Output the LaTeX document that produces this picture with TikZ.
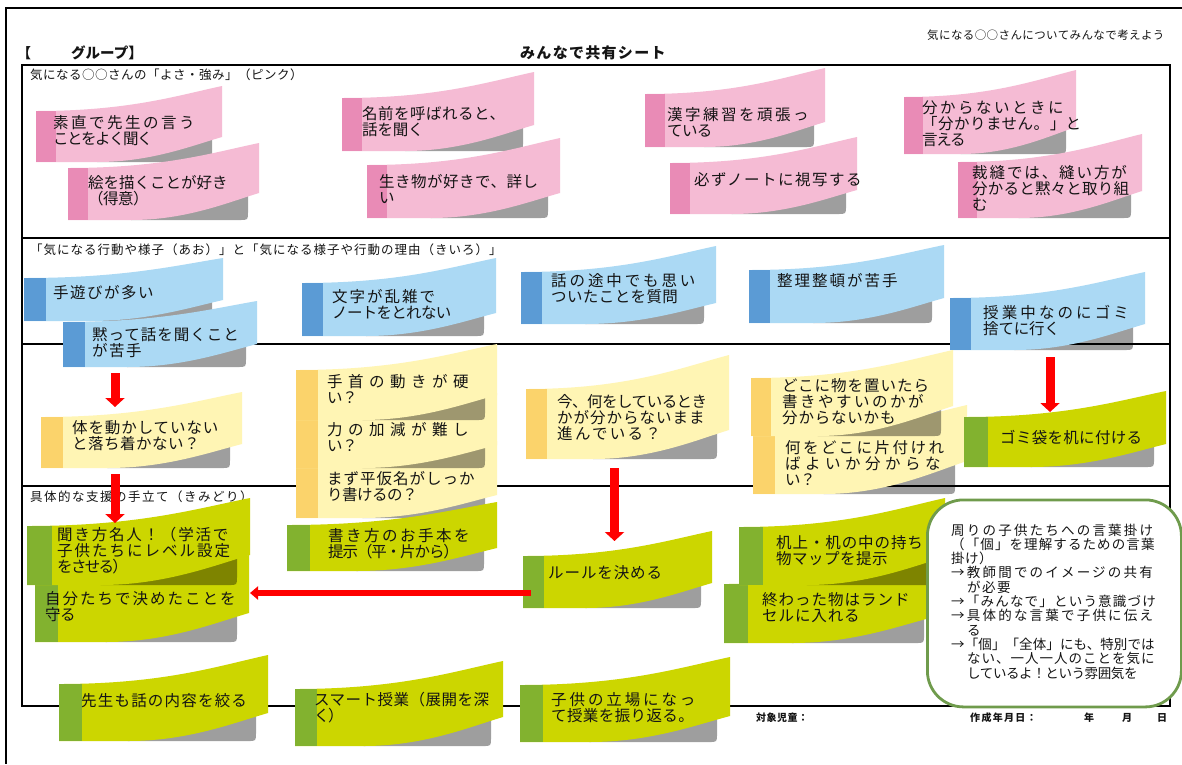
\documentclass[tikz,border=0pt]{standalone}
\usepackage{fontspec}
\setmainfont{Noto Sans CJK JP}
\usetikzlibrary{arrows.meta}
\definecolor{noteP}{HTML}{F5BBD4}\definecolor{stripP}{HTML}{E98BB6}
\definecolor{noteB}{HTML}{ABD9F4}\definecolor{stripB}{HTML}{5B9BD5}
\definecolor{noteY}{HTML}{FFF5B4}\definecolor{stripY}{HTML}{FBD36B}
\definecolor{noteG}{HTML}{CCD600}\definecolor{stripG}{HTML}{82B22F}
\definecolor{inkc}{HTML}{141414}
\definecolor{boxg}{HTML}{6F9B4C}
\newcommand\basefs{15.5}
\newcommand\Ln[2]{\pgfmathsetmacro\lsv{(#1-\basefs)/\basefs*100}\edef\tmpls{\noexpand\addfontfeature{LetterSpace=\lsv}}\tmpls #2}
% note: colour, L, stripR, T, R, TR, BR, B, GR
\newcommand\notebox[9]{%
 \pgfmathsetmacro\nbw{#5-#2}%
 \pgfmathsetmacro\nbax{#2+0.5*\nbw}\pgfmathsetmacro\nbbx{#2+0.76*\nbw}\pgfmathsetmacro\nbby{#6+0.38*(#4-#6)}%
 \pgfmathsetmacro\nbcx{#2+0.33*\nbw}\pgfmathsetmacro\nbdx{#2+0.62*\nbw}\pgfmathsetmacro\nbex{#2+0.84*\nbw}\pgfmathsetmacro\nbey{#7+0.34*(#8-#7)}%
 \pgfmathsetmacro\nbgt{#7-12}\pgfmathsetmacro\nbrx{#9-8}\pgfmathsetmacro\nbry{#8-8}%
 \fill[shadowfill] (\nbcx,#8) -- (\nbrx,#8) .. controls (#9,#8) and (#9,#8) .. (#9,\nbry) -- (#9,\nbgt) -- (\nbcx,\nbgt) -- cycle;
 \fill[note#1] (#2,#4) .. controls (\nbax,#4) and (\nbbx,\nbby) .. (#5,#6) -- (#5,#7) .. controls (\nbex,\nbey) and (\nbdx,#8) .. (\nbcx,#8) -- (#2,#8) -- cycle;
 \fill[strip#1] (#2,#4) rectangle (#3,#8);
}
\newcommand\nt[4]{\node[txt] (#1) at (#2,#3) {#4};}
\tikzset{
 shadowfill/.style={black,opacity=.38},
 txt/.style={anchor=west,inner sep=0pt,align=left,text=inkc,font=\fontsize{15.5}{16}\selectfont},
 lab/.style={anchor=west,inner sep=0pt,text=inkc,font=\fontsize{12.5}{14}\selectfont},
 rowline/.style={line width=1.1pt,black},
 blockarrow/.style={red,line width=9pt,-{Triangle[width=19pt,length=9pt]}},
 flatarrow/.style={red,line width=6.5pt,-{Triangle[width=13pt,length=8pt]}},
}
\begin{document}
\begin{tikzpicture}[x=1pt,y=-1pt]
\useasboundingbox (0,0) rectangle (1182,764);
\fill[white] (0,0) rectangle (1182,764);
% frame and table
\draw[line width=2pt] (1182,7.5) -- (5.5,7.5) -- (5.5,764);
\draw[rowline] (22,65) rectangle (1170,706);
\draw[rowline] (22,238) -- (1170,238);
\draw[rowline] (22,344) -- (1170,344);
\draw[rowline] (22,486) -- (1170,486);
% headings
\renewcommand\basefs{15}
\node[txt,font=\fontsize{14}{16}\bfseries\selectfont] (brk) at (17,53) {【};
\node[txt,font=\fontsize{14.5}{16}\bfseries\selectfont] (grp) at (71,53) {グループ】};
\node[txt,font=\fontsize{15}{16}\bfseries\selectfont] (ttl) at (520,53) {\Ln{16.3}{みんなで共有シート}};
\renewcommand\basefs{11.5}
\node[txt,font=\fontsize{11.5}{13}\selectfont] (rgt) at (927,35) {\Ln{11.9}{気になる○○さんについてみんなで考えよう}};
\renewcommand\basefs{12.5}
\node[lab] (s1) at (30,75) {\Ln{13}{気になる○○さんの「よさ・強み」（ピンク）}};
\node[lab] (s2) at (30,250) {\Ln{13.5}{「気になる行動や様子（あお）」と「気になる様子や行動の理由（きいろ）」}};
\node[lab] (s3) at (30,497) {\Ln{14}{具体的な支援の手立て（きみどり）}};
\renewcommand\basefs{15.5}
% pink
\notebox{P}{36}{56}{111}{222}{86}{137}{162}{212}
\nt{p1}{53}{131}{\Ln{18}{素直で先生の言う}\\\Ln{14}{ことをよく聞く}}
\notebox{P}{68}{88}{168}{259}{143}{193}{220}{248}
\nt{p2}{88}{191}{\Ln{15.5}{絵を描くことが好き}\\\Ln{15}{（得意）}}
\notebox{P}{342}{362}{98}{534}{72}{125}{151}{523}
\nt{p3}{362}{122}{\Ln{16}{名前を呼ばれると、}\\\Ln{15.3}{話を聞く}}
\notebox{P}{367}{387}{165}{560}{138}{193}{218}{548}
\nt{p4}{379}{189}{\Ln{16}{生き物が好きで、詳し}\\\Ln{14}{い}}
\notebox{P}{645}{665}{94}{825}{68}{122}{147}{814}
\nt{p5}{667}{122}{\Ln{18}{漢字練習を頑張っ}\\\Ln{14.8}{ている}}
\notebox{P}{670}{690}{163}{857}{137}{190}{214}{846}
\nt{p6}{694}{180}{\Ln{17}{必ずノートに視写する}}
\notebox{P}{904}{923}{97}{1076}{70}{127}{154}{1066}
\nt{p7}{922}{124}{\Ln{18}{分からないときに}\\\Ln{16}{「分かりません。」と}\\\Ln{14.2}{言える}}
\notebox{P}{958}{977}{162}{1142}{134}{191}{218}{1131}
\nt{p8}{972}{188}{\Ln{17.4}{裁縫では、縫い方が}\\\Ln{15.7}{分かると黙々と取り組}\\\Ln{14}{む}}
% blue
\notebox{B}{24}{46}{278}{223}{258}{300}{321}{212}
\nt{b1}{53}{293}{\Ln{17}{手遊びが多い}}
\notebox{B}{63}{85}{322}{257}{301}{344}{367}{246}
\nt{b2}{92}{343}{\Ln{16.5}{黙って話を聞くこと}\\\Ln{17}{が苦手}}
\notebox{B}{302}{323}{283}{496}{258}{313}{336}{484}
\nt{b3}{332}{304}{\Ln{17.5}{文字が乱雑で}\\\Ln{14.8}{ノートをとれない}}
\notebox{B}{521}{542}{272}{716}{246}{303}{324}{704}
\nt{b4}{551}{289}{\Ln{18.4}{話の途中でも思い}\\\Ln{15.9}{ついたことを質問}}
\notebox{B}{749}{770}{270}{944}{245}{298}{323}{932}
\nt{b5}{777}{281}{\Ln{17.5}{整理整頓が苦手}}
\notebox{B}{950}{971}{298}{1145}{272}{324}{350}{1133}
\nt{b6}{983}{321}{\Ln{18.6}{授業中なのにゴミ}\\\Ln{15.3}{捨てに行く}}
% yellow
\notebox{Y}{41}{63}{417}{242}{392}{444}{468}{230}
\nt{y1}{72}{436}{\Ln{16.4}{体を動かしていない}\\\Ln{16}{と落ち着かない？}}
\notebox{Y}{296}{318}{467}{497}{441}{495}{518}{485}
\nt{y4}{327}{487}{\Ln{16.5}{まず平仮名がしっか}\\\Ln{15}{り書けるの？}}
\notebox{Y}{296}{318}{418}{497}{393}{445}{468}{485}
\nt{y3}{327}{437}{\Ln{21}{力の加減が難し}\\\Ln{15}{い？}}
\notebox{Y}{296}{318}{370}{497}{344}{395}{420}{485}
\nt{y2}{327}{389}{\Ln{21}{手首の動きが硬}\\\Ln{15}{い？}}
\notebox{Y}{526}{547}{389}{729}{355}{430}{459}{717}
\nt{y5}{557}{418}{\Ln{15}{今、何をしているとき}\\\Ln{16.5}{かが分からないまま}\\\Ln{17.8}{進んでいる？}}
\notebox{Y}{753}{775}{436}{967}{405}{461}{494}{955}
\nt{y7}{785}{463}{\Ln{18}{何をどこに片付けれ}\\\Ln{20}{ばよいか分からな}\\\Ln{15}{い？}}
\notebox{Y}{751}{771}{378}{953}{350}{406}{436}{941}
\nt{y6}{782}{402}{\Ln{16.5}{どこに物を置いたら}\\\Ln{18}{書きやすいのかが}\\\Ln{16.3}{分からないかも}}
% green
\notebox{G}{964}{988}{417}{1166}{391}{444}{467}{1154}
\nt{g0}{1000}{438}{\Ln{15.8}{ゴミ袋を机に付ける}}
\notebox{G}{35}{58}{585}{249}{555}{613}{642}{237}
\nt{g2}{45}{607}{\Ln{17.5}{自分たちで決めたことを}\\\Ln{15}{守る}}
\notebox{G}{27}{52}{526}{250}{498}{555}{585}{237}
\nt{g1}{57}{551}{\Ln{17.3}{聞き方名人！（学活で}\\\Ln{17.5}{子供たちにレベル設定}\\\Ln{13.8}{をさせる）}}
\notebox{G}{287}{310}{525}{497}{502}{548}{571}{484}
\nt{g3}{328}{544}{\Ln{18}{書き方のお手本を}\\\Ln{14.4}{提示（平・片から）}}
\notebox{G}{59}{82}{684}{268}{655}{713}{741}{256}
\nt{g4}{81}{701}{\Ln{16.7}{先生も話の内容を絞る}}
\notebox{G}{295}{317}{689}{503}{661}{717}{746}{491}
\nt{g5}{314}{708}{\Ln{16}{スマート授業（展開を深}\\\Ln{14}{く）}}
\notebox{G}{523}{544}{556}{712}{531}{583}{608}{701}
\nt{g6}{548}{573}{\Ln{16.4}{ルールを決める}}
\notebox{G}{724}{748}{584}{930}{558}{618}{643}{924}
\nt{g8}{762}{608}{\Ln{16.5}{終わった物はランド}\\\Ln{16.4}{セルに入れる}}
\notebox{G}{739}{763}{527}{945}{498}{557}{585}{934}
\nt{g7}{776}{551}{\Ln{16.4}{机上・机の中の持ち}\\\Ln{16}{物マップを提示}}
\notebox{G}{520}{543}{685}{730}{657}{716}{742}{717}
\nt{g9}{551}{708}{\Ln{18.4}{子供の立場になっ}\\\Ln{15.9}{て授業を振り返る。}}
% rounded box
\node[draw=boxg,fill=white,line width=2.8pt,rounded corners=36pt,minimum width=254pt,minimum height=207pt,inner sep=0pt,anchor=north west] (memo) at (926,498.5) {};
\renewcommand\basefs{13.5}
\node[anchor=west,inner sep=0pt,align=left,text=inkc,font=\fontsize{13.5}{14.3}\selectfont] (memotext) at (951,601.5) {%
\Ln{15.7}{周りの子供たちへの言葉掛け}\\
\Ln{14.6}{（「個」を理解するための言葉}\\
\Ln{14}{掛け）}\\
\Ln{15.7}{→教師間でのイメージの共有}\\
\hspace*{16pt}\Ln{14.9}{が必要}\\
\Ln{14.7}{→「みんなで」という意識づけ}\\
\Ln{15.7}{→具体的な言葉で子供に伝え}\\
\hspace*{16pt}\Ln{13}{る}\\
\Ln{13.6}{→「個」「全体」にも、特別では}\\
\hspace*{16pt}\Ln{14.5}{ない、一人一人のことを気に}\\
\hspace*{16pt}\Ln{13.1}{しているよ！という雰囲気を}};
% footer
\renewcommand\basefs{10}
\tikzset{foot/.style={anchor=west,inner sep=0pt,text=inkc,font=\fontsize{10}{11}\bfseries\selectfont}}
\node[foot] (f1) at (756,718) {\Ln{10.5}{対象児童：}};
\node[foot] (f2) at (970,718) {\Ln{11.3}{作成年月日：}};
\node[foot] (f3) at (1084,718) {年};
\node[foot] (f4) at (1122,718) {月};
\node[foot] (f5) at (1157,718) {日};
% arrows
\coordinate (a1s) at (115,373); \coordinate (a1e) at (115,407);
\coordinate (a2s) at (115,474); \coordinate (a2e) at (115,523);
\coordinate (a3s) at (614.5,468); \coordinate (a3e) at (614.5,541);
\coordinate (a4s) at (1050,357); \coordinate (a4e) at (1050,412);
\coordinate (a5s) at (531,593); \coordinate (a5e) at (250,593);
\draw[blockarrow] (a1s) -- (a1e);
\draw[blockarrow] (a2s) -- (a2e);
\draw[blockarrow] (a3s) -- (a3e);
\draw[blockarrow] (a4s) -- (a4e);
\draw[flatarrow] (a5s) -- (a5e);
\end{tikzpicture}
\end{document}
